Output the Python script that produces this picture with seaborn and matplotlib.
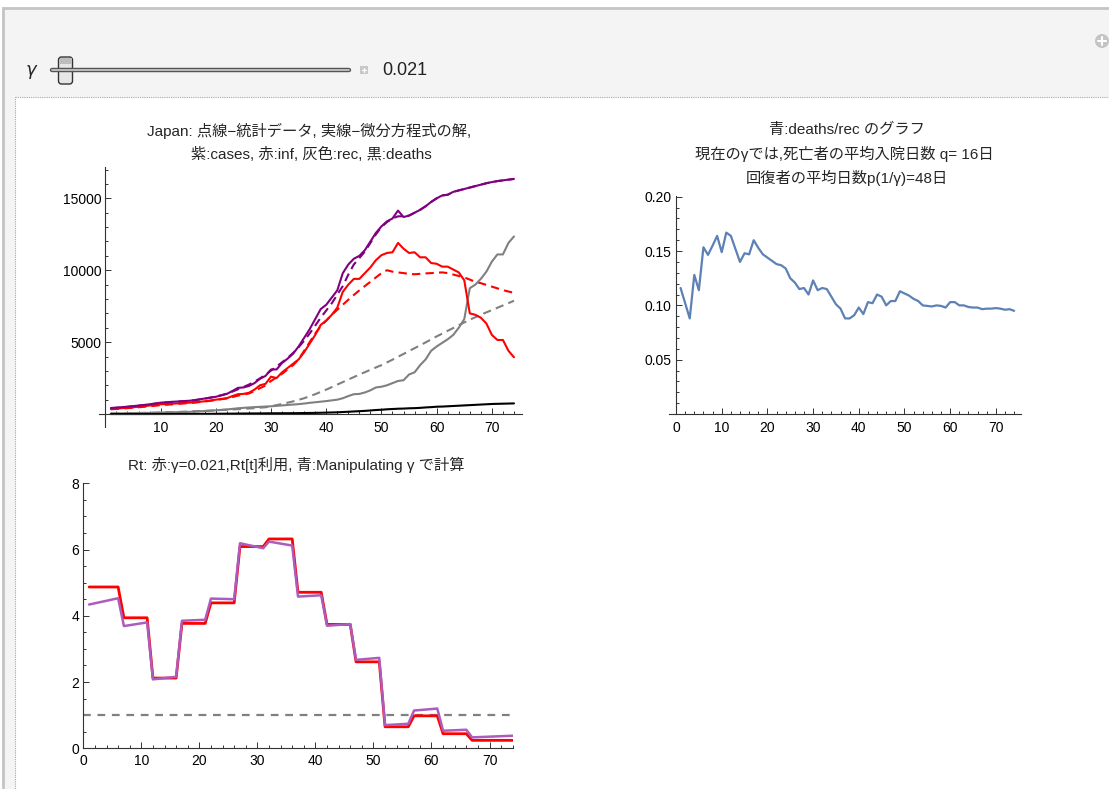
import numpy as np
import pandas as pd
import matplotlib
matplotlib.use("Agg")
import matplotlib.pyplot as plt
from matplotlib.patches import Rectangle, FancyBboxPatch, Circle
from matplotlib.ticker import MultipleLocator, FixedLocator, FuncFormatter
import seaborn as sns

sns.set_style("white")
plt.rcParams['font.family'] = ['Liberation Sans', 'Noto Sans CJK JP', 'DejaVu Sans']

# ---------------- data ----------------
days = list(range(1, 75))

cases_model = [420, 450, 480, 510, 550, 590, 630, 680, 730, 790,
               820, 850, 870, 890, 920, 950, 1020, 1080, 1140, 1200,
               1300, 1400, 1600, 1820, 1850, 1950, 2150, 2450, 2650, 3100,
               3100, 3550, 3850, 4200, 4700, 5300, 5900, 6600, 7300, 7600,
               8100, 8600, 9800, 10400, 10800, 11000, 11400, 12000, 12600, 13050,
               13400, 13600, 14150, 13700, 13800, 14000, 14200, 14450, 14750, 15000,
               15200, 15250, 15450, 15550, 15650, 15750, 15850, 15950, 16050, 16130,
               16200, 16250, 16300, 16350]
cases_data = [400, 430, 460, 500, 540, 580, 620, 670, 720, 770,
              800, 830, 860, 890, 920, 960, 1010, 1070, 1140, 1220,
              1310, 1420, 1560, 1720, 1880, 2050, 2250, 2480, 2740, 3020,
              3300, 3600, 3900, 4250, 4650, 5100, 5600, 6150, 6700, 7200,
              7700, 8300, 8900, 9700, 10400, 10850, 11300, 11900, 12500, 13000,
              13350, 13600, 13750, 13750, 13800, 14000, 14200, 14450, 14750, 15000,
              15200, 15250, 15450, 15550, 15650, 15750, 15850, 15950, 16050, 16130,
              16200, 16250, 16300, 16350]
inf_model = [350, 380, 410, 440, 470, 510, 550, 590, 630, 680,
             700, 720, 740, 760, 790, 810, 850, 890, 940, 1000,
             1050, 1100, 1250, 1380, 1400, 1480, 1700, 2000, 2100, 2600,
             2500, 2900, 3200, 3500, 3800, 4300, 4900, 5500, 6200, 6500,
             6900, 7400, 8500, 9000, 9400, 9400, 9800, 10200, 10700, 11050,
             11200, 11250, 11900, 11500, 11200, 11250, 10900, 10900, 10500, 10450,
             10250, 10250, 10050, 9850, 9300, 7000, 6900, 6700, 6300, 5500,
             5150, 5150, 4400, 3950]
inf_data = [330, 355, 380, 410, 440, 470, 505, 540, 580, 620,
            645, 670, 700, 730, 760, 790, 830, 870, 920, 980,
            1030, 1090, 1180, 1280, 1350, 1430, 1600, 1800, 1980, 2300,
            2550, 2800, 3100, 3400, 3800, 4400, 5000, 5600, 6100, 6500,
            6900, 7250, 7600, 7950, 8280, 8600, 8900, 9200, 9500, 9800,
            10000, 9900, 9850, 9800, 9750, 9720, 9750, 9780, 9800, 9830,
            9850, 9800, 9700, 9600, 9500, 9350, 9200, 9100, 8980, 8860,
            8740, 8620, 8520, 8430]
rec_model = [40, 45, 50, 55, 60, 70, 75, 80, 90, 100,
             110, 120, 130, 140, 150, 170, 190, 210, 230, 260,
             290, 320, 360, 400, 430, 460, 480, 500, 520, 540,
             570, 600, 630, 660, 690, 730, 780, 820, 860, 900,
             950, 1000, 1100, 1250, 1380, 1400, 1500, 1650, 1850, 1900,
             2000, 2150, 2300, 2350, 2750, 2900, 3400, 3800, 4400, 4700,
             4950, 5200, 5500, 6000, 6600, 8750, 9000, 9400, 9900, 10600,
             11100, 11100, 11900, 12350]
rec_data = [30, 35, 40, 50, 60, 70, 80, 90, 100, 110,
            120, 130, 145, 160, 175, 190, 205, 220, 240, 260,
            280, 300, 320, 340, 360, 385, 410, 440, 470, 540,
            620, 700, 790, 880, 990, 1100, 1240, 1380, 1540, 1700,
            1870, 2050, 2220, 2400, 2570, 2750, 2910, 3080, 3240, 3400,
            3590, 3780, 3980, 4180, 4380, 4580, 4780, 4980, 5190, 5400,
            5590, 5790, 5980, 6180, 6370, 6560, 6730, 6900, 7070, 7230,
            7390, 7550, 7710, 7880]
deaths_model = [1, 1, 1, 1, 1, 1, 1, 2, 2, 3,
                4, 5, 6, 6, 7, 7, 10, 12, 14, 18,
                22, 24, 28, 32, 36, 41, 43, 45, 49, 52,
                54, 56, 57, 60, 63, 70, 75, 80, 90, 100,
                110, 120, 140, 160, 180, 200, 220, 250, 280, 300,
                330, 350, 370, 380, 400, 410, 430, 460, 480, 510,
                520, 540, 560, 580, 600, 620, 640, 660, 680, 700,
                710, 720, 730, 740]

ratio = [0.116, 0.102, 0.088, 0.128, 0.114, 0.1535, 0.1465, 0.155, 0.164, 0.149,
         0.167, 0.164, 0.152, 0.140, 0.148, 0.147, 0.160, 0.153, 0.147, 0.144,
         0.141, 0.138, 0.137, 0.134, 0.125, 0.121, 0.115, 0.116, 0.110, 0.123,
         0.114, 0.116, 0.115, 0.108, 0.101, 0.097, 0.088, 0.088, 0.091, 0.098,
         0.092, 0.103, 0.102, 0.110, 0.108, 0.100, 0.104, 0.104, 0.113, 0.111,
         0.109, 0.106, 0.104, 0.100, 0.0995, 0.099, 0.100, 0.0995, 0.098, 0.103,
         0.103, 0.100, 0.100, 0.0985, 0.098, 0.098, 0.0965, 0.097, 0.097, 0.0975,
         0.097, 0.096, 0.0965, 0.095]

rt_red = [4.87] * 6 + [3.94] * 5 + [2.12] * 5 + [3.77] * 5 + [4.39] * 5 + \
         [6.09] * 5 + [6.32] * 5 + [4.71] * 5 + [3.74] * 5 + [2.61] * 5 + \
         [0.65] * 5 + [0.98] * 5 + [0.44] * 5 + [0.24] * 8
rt_purple_days = [1, 6, 7, 11, 12, 16, 17, 21, 22, 26, 27, 31, 32, 36,
                  37, 41, 42, 46, 47, 51, 52, 56, 57, 61, 62, 66, 67, 74]
rt_purple = [4.34, 4.53, 3.69, 3.80, 2.08, 2.16, 3.85, 3.88, 4.52, 4.50,
             6.19, 6.04, 6.24, 6.12, 4.58, 4.62, 3.70, 3.75, 2.67, 2.73,
             0.70, 0.74, 1.14, 1.20, 0.53, 0.56, 0.33, 0.38]
rt_threshold = 1.0
gamma_value = "0.021"

df = pd.DataFrame({"day": days, "cases_model": cases_model, "cases_data": cases_data,
                   "inf_model": inf_model, "inf_data": inf_data,
                   "rec_model": rec_model, "rec_data": rec_data,
                   "deaths": deaths_model, "ratio": ratio, "rt_red": rt_red})
dfp = pd.DataFrame({"day": rt_purple_days, "rt": rt_purple})

# ---------------- figure ----------------
W, H = 1109, 789
fig = plt.figure(figsize=(W / 100, H / 100), dpi=100)
fig.patch.set_facecolor("white")

bg = fig.add_axes([0, 0, 1, 1])
bg.set_xlim(0, W)
bg.set_ylim(H, 0)
bg.axis("off")
bg.set_zorder(-5)
bg.add_patch(Rectangle((3, 8), W, H, facecolor="#f4f4f4", edgecolor="#c4c4c4", lw=2))
bg.add_patch(Rectangle((15, 97), W, H, facecolor="white", edgecolor="#a8a8a8", lw=0.8, ls=(0, (1, 1))))
# slider
bg.text(31, 70, "γ", fontsize=13, style="italic", va="center", ha="center", family=['DejaVu Sans'])
bg.plot([52, 349], [70, 70], color="#555555", lw=3.2, solid_capstyle="round")
bg.plot([52, 349], [70, 70], color="#cfcfcf", lw=1.2, solid_capstyle="round")
bg.add_patch(FancyBboxPatch((58.5, 57), 14, 27, boxstyle="round,pad=0,rounding_size=3",
                            facecolor="#e6e6e6", edgecolor="#333333", lw=1.0))
bg.add_patch(Rectangle((59.5, 58), 12, 6, facecolor="#bdbdbd", edgecolor="none"))
bg.add_patch(Rectangle((360, 66), 8, 8, facecolor="#c8c8c8", edgecolor="none"))
bg.plot([361.8, 366.2], [70, 70], color="white", lw=0.9)
bg.plot([364, 364], [67.8, 72.2], color="white", lw=0.9)
bg.text(382, 70, gamma_value, fontsize=13, va="center", ha="left", color="#222222")
bg.add_patch(Circle((1102, 41), 7, facecolor="#c4c4c4", edgecolor="none"))
bg.plot([1098, 1106], [41, 41], color="white", lw=1.5)
bg.plot([1102, 1102], [37, 45], color="white", lw=1.5)


def fig_axes(x0, x1, y0, y1):
    return fig.add_axes([x0 / W, 1 - y1 / H, (x1 - x0) / W, (y1 - y0) / H])


def style_axes(ax):
    ax.set_facecolor("none")
    for s in ["top", "right"]:
        ax.spines[s].set_visible(False)
    for s in ["left", "bottom"]:
        ax.spines[s].set_color("#333333")
        ax.spines[s].set_linewidth(0.8)
    ax.tick_params(which="both", direction="in", colors="#333333", labelcolor="black",
                   labelsize=10, width=0.7, bottom=True, left=True, top=False, right=False)
    ax.tick_params(which="major", length=4)
    ax.tick_params(which="minor", length=2.3)
    ax.set_xlabel("")
    ax.set_ylabel("")


dash = (0, (4, 2.5))
TFS = 11

# ---- top-left ----
ax1 = fig_axes(99.3, 521.7, 166.7, 426.7)
sns.lineplot(data=df, x="day", y="rec_data", ax=ax1, color="#808080", lw=1.5, linestyle=dash)
sns.lineplot(data=df, x="day", y="inf_data", ax=ax1, color="#ff0000", lw=1.5, linestyle=dash)
sns.lineplot(data=df, x="day", y="cases_data", ax=ax1, color="#800080", lw=1.5, linestyle=dash)
sns.lineplot(data=df, x="day", y="rec_model", ax=ax1, color="#808080", lw=1.5)
sns.lineplot(data=df, x="day", y="inf_model", ax=ax1, color="#ff0000", lw=1.5)
sns.lineplot(data=df, x="day", y="cases_model", ax=ax1, color="#800080", lw=1.5)
sns.lineplot(data=df, x="day", y="deaths", ax=ax1, color="#000000", lw=1.5)
ax1.set_xlim(-1.1, 75.4)
ax1.set_ylim(-880, 17200)
ax1.spines["left"].set_position(("data", 0))
ax1.spines["bottom"].set_position(("data", 0))
style_axes(ax1)
ax1.xaxis.set_major_locator(FixedLocator([10, 20, 30, 40, 50, 60, 70]))
ax1.xaxis.set_minor_locator(MultipleLocator(2))
ax1.yaxis.set_major_locator(FixedLocator([5000, 10000, 15000]))
ax1.yaxis.set_minor_locator(MultipleLocator(1000))
ax1.tick_params(axis="y", pad=3)
ax1.tick_params(axis="x", pad=5)

fig.text(309 / W, 1 - 131 / H, "Japan: 点線−統計データ, 実線−微分方程式の解,",
         ha="center", va="center", fontsize=TFS)
fig.text(311 / W, 1 - 154 / H, "紫:cases, 赤:inf, 灰色:rec, 黒:deaths",
         ha="center", va="center", fontsize=TFS)

# ---- top-right ----
ax2 = fig_axes(669.3, 1021, 196, 414)
sns.lineplot(data=df, x="day", y="ratio", ax=ax2, color="#5e81b5", lw=1.6)
ax2.set_xlim(-1.47, 75.5)
ax2.set_ylim(0, 0.2007)
ax2.spines["left"].set_position(("data", 0))
style_axes(ax2)
ax2.xaxis.set_major_locator(FixedLocator([0, 10, 20, 30, 40, 50, 60, 70]))
ax2.xaxis.set_minor_locator(MultipleLocator(2))
ax2.yaxis.set_major_locator(FixedLocator([0.05, 0.10, 0.15, 0.20]))
ax2.yaxis.set_minor_locator(MultipleLocator(0.01))
ax2.yaxis.set_major_formatter(FuncFormatter(lambda v, p: f"{v:.2f}"))
ax2.tick_params(axis="y", pad=3)
ax2.tick_params(axis="x", pad=5)

fig.text(847 / W, 1 - 130 / H, "青:deaths/rec のグラフ", ha="center", va="center", fontsize=TFS)
fig.text(844 / W, 1 - 154 / H, "現在のγでは,死亡者の平均入院日数 q= 16日", ha="center", va="center", fontsize=TFS)
fig.text(847 / W, 1 - 178 / H, "回復者の平均日数p(1/γ)=48日", ha="center", va="center", fontsize=TFS)

# ---- bottom ----
ax3 = fig_axes(83.3, 513.3, 483.3, 748.3)
ax3.axhline(rt_threshold, color="#808080", lw=1.6, linestyle=(0, (3.5, 3)))
sns.lineplot(data=df, x="day", y="rt_red", ax=ax3, color="#ff0000", lw=2.0)
sns.lineplot(data=dfp, x="day", y="rt", ax=ax3, color="#ac5cbc", lw=1.8)
ax3.set_xlim(0, 74.1)
ax3.set_ylim(0, 8)
style_axes(ax3)
ax3.xaxis.set_major_locator(FixedLocator([0, 10, 20, 30, 40, 50, 60, 70]))
ax3.xaxis.set_minor_locator(MultipleLocator(2))
ax3.yaxis.set_major_locator(FixedLocator([0, 2, 4, 6, 8]))
ax3.yaxis.set_minor_locator(MultipleLocator(0.5))
ax3.tick_params(axis="y", pad=3)
ax3.tick_params(axis="x", pad=4)

fig.text(296 / W, 1 - 465 / H, "Rt: 赤:γ=0.021,Rt[t]利用, 青:Manipulating γ で計算",
         ha="center", va="center", fontsize=TFS)

fig.savefig("out.png", dpi=100, facecolor=fig.get_facecolor())
